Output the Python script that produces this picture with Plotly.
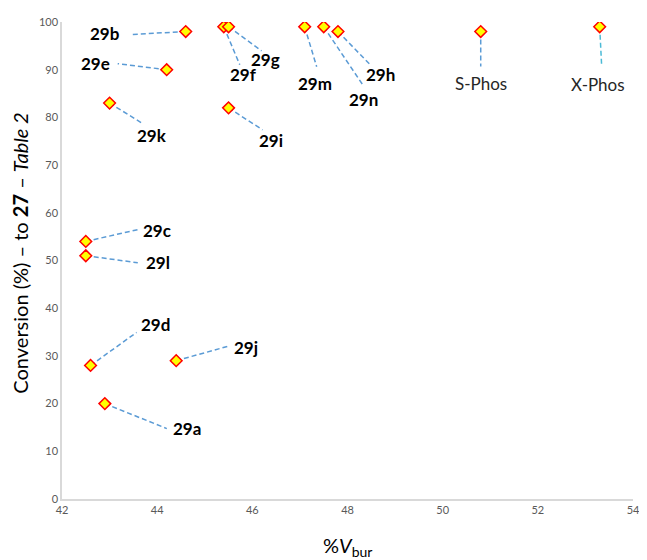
import plotly.graph_objects as go

# ligand data
ligands = ["29a", "29b", "29c", "29d", "29e", "29f", "29g", "29h", "29i",
           "29j", "29k", "29l", "29m", "29n", "S-Phos", "X-Phos"]
vbur = [42.9, 44.6, 42.5, 42.6, 44.2, 45.4, 45.5, 47.8, 45.5,
        44.4, 43.0, 42.5, 47.1, 47.5, 50.8, 53.3]
conversion = [20, 98, 54, 28, 90, 99, 99, 98, 82,
              29, 83, 51, 99, 99, 98, 99]

# label placement (screen px from marker, y down): label centre, leader end
offsets = {
  "29a": ((82, 25), (62, 25)),
  "29b": ((-81, 2), (-55, 3)),
  "29c": ((71, -11), (53, -12)),
  "29d": ((65, -41), (46, -33)),
  "29e": ((-71, -6), (-49, -6)),
  "29f": ((20, 48), (16, 38)),
  "29g": ((37, 33), (33, 24)),
  "29h": ((43, 43), (32, 33)),
  "29i": ((42, 33), (34, 22)),
  "29j": ((70, -13), (54, -15)),
  "29k": ((42, 32), (34, 21)),
  "29l": ((72, 7), (52, 7)),
  "29m": ((10, 57), (12, 40)),
  "29n": ((40, 73), (39, 58)),
  "S-Phos": ((0, 52), (0, 35)),
  "X-Phos": ((-2, 58), (2, 40)),
}

FONT = "Lato, Carlito, Calibri, sans-serif"

shapes = []
annotations = []
for name, x, y in zip(ligands, vbur, conversion):
  (lx, ly), (ex, ey) = offsets[name]
  color = "#4BBAD6" if name == "X-Phos" else "#5B9BD5"
  shapes.append(dict(type="line", xref="x", yref="y", xsizemode="pixel", ysizemode="pixel",
      xanchor=x, yanchor=y, x0=0, y0=0, x1=ex, y1=-ey, layer="below",
      line=dict(color=color, width=1.5, dash="5px,3px")))
  bold = not name.endswith("Phos")
  annotations.append(dict(x=x, y=y, xref="x", yref="y", xshift=lx, yshift=-ly, showarrow=False,
      text="<b>{}</b>".format(name) if bold else name,
      font=dict(family=FONT, size=17, color="black" if bold else "#262626")))

# axis titles placed by hand to sit where the reference has them
annotations.append(dict(x=-0.073, y=0.515, xref="paper", yref="paper", showarrow=False, textangle=-90,
    xanchor="center", yanchor="middle", borderpad=0,
    text="Conversion (%) – to <b>27</b> – <i>Table 2</i>", font=dict(family=FONT, size=20, color="black")))
annotations.append(dict(x=0.5, y=-0.1, xref="paper", yref="paper", showarrow=False,
    xanchor="center", yanchor="middle",
    text="%<i>V</i><sub>bur</sub>", font=dict(family=FONT, size=20, color="black")))

fig = go.Figure()
fig.add_trace(go.Scatter(x=vbur, y=conversion, mode="markers", text=ligands,
    marker=dict(symbol="diamond", size=9, color="#FFFF00", line=dict(color="#FF0000", width=1.5))))

# page body adds an 8px margin, so the figure is a little smaller than the window
fig.update_layout(
  width=639, height=552, showlegend=False,
  margin=dict(l=54, r=7, t=12, b=61),
  plot_bgcolor="white", paper_bgcolor="white",
  font=dict(family=FONT),
  shapes=shapes, annotations=annotations,
)
fig.update_xaxes(range=[42, 54], dtick=2, showgrid=False, zeroline=False, showline=True,
    linecolor="#D9D9D9", linewidth=1.5, ticks="", tickfont=dict(size=11, color="#595959"))
fig.update_yaxes(range=[0, 100], dtick=10, showgrid=False, zeroline=False, showline=True,
    linecolor="#D9D9D9", linewidth=1.5, ticks="", tickfont=dict(size=11, color="#595959"))

fig.write_html("out.html")
